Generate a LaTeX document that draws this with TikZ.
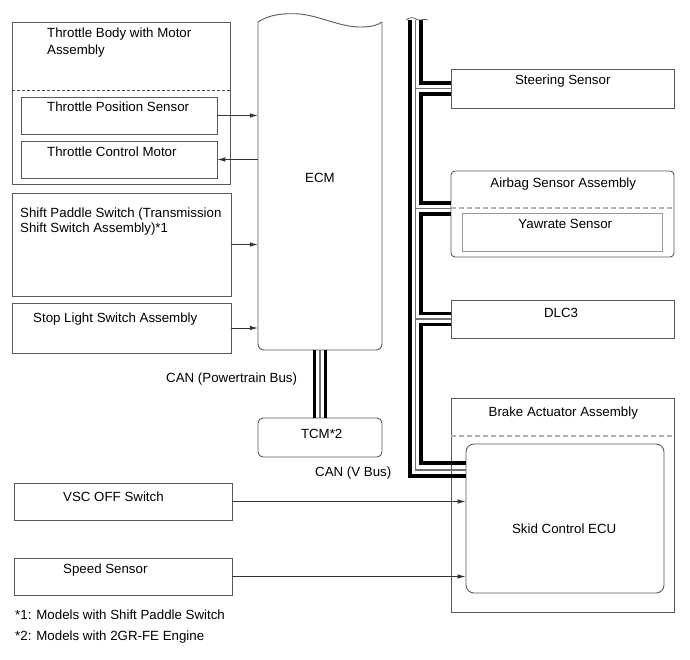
\documentclass[tikz,border=0pt]{standalone}
\usepackage{fontspec}
\setmainfont{Liberation Sans}
\usetikzlibrary{arrows.meta}
\newcommand{\fs}{\fontsize{13.3}{16}\selectfont}
\begin{document}
\begin{tikzpicture}[x=1pt,y=-1pt,
  box/.style={draw=black!65, line width=0.9pt, inner sep=0pt},
  lbl/.style={inner sep=0pt, font=\fs},
  arr/.style={draw=black!80, line width=0.8pt, -{Latex[length=8pt,width=4.5pt]}},
  busblack/.style={draw=black, line width=3.2pt, line join=miter},
  busgray/.style={draw=black!55, line width=1.4pt, line join=miter},
  dashdark/.style={draw=black!70, line width=0.7pt, dash pattern=on 3pt off 2pt},
  dashlight/.style={draw=black!30, line width=1.2pt, dash pattern=on 5pt off 3pt},
  ecmline/.style={draw=black!65, line width=0.9pt}]
\useasboundingbox (0,0) rectangle (690,659);
\fill[white] (0,0) rectangle (690,659);

% left boxes
\node[box, minimum width=218pt, minimum height=162pt] (tb) at (121,103) {};
\node[box, minimum width=196pt, minimum height=37pt] (tps) at (119,115.5) {};
\node[box, minimum width=196pt, minimum height=37pt] (tcmm) at (119,159.5) {};
\node[box, minimum width=219pt, minimum height=103pt] (shift) at (121.5,244.5) {};
\node[box, minimum width=219pt, minimum height=50pt] (stop) at (121.5,328) {};
\node[box, minimum width=218pt, minimum height=37pt] (vsc) at (123,501.5) {};
\node[box, minimum width=218pt, minimum height=37pt] (speed) at (123,576.5) {};

% ECM and TCM
\node[inner sep=0pt, minimum width=124pt, minimum height=330pt] (ecm) at (320,185) {};
\draw[ecmline, rounded corners=6pt] (382,22) -- (382,350) -- (258,350) -- (258,22);
\draw[ecmline] (258,22) .. controls (270,14) and (285,13) .. (300,14)
  .. controls (320,16) and (340,27) .. (360,27) .. controls (372,27) and (378,25) .. (382,22);
\node[box, rounded corners=5pt, minimum width=124pt, minimum height=39pt] (tcm) at (320,437.5) {};

% right boxes
\node[box, minimum width=223pt, minimum height=39pt] (steer) at (562.5,88.5) {};
\node[box, rounded corners=4pt, minimum width=223pt, minimum height=86pt] (airbag) at (562.5,214) {};
\node[draw=black!40, line width=1pt, inner sep=0pt, minimum width=200pt, minimum height=38pt] (yaw) at (562,232) {};
\node[box, minimum width=223pt, minimum height=38pt] (dlc) at (562.5,319) {};
\node[box, minimum width=223pt, minimum height=214pt] (brake) at (562.5,505) {};
\node[box, rounded corners=8pt, minimum width=198pt, minimum height=149pt] (skid) at (565,518.5) {};

% dashed separators
\draw[dashdark] (tb.west |- 0,90) -- (tb.east |- 0,90);
\draw[dashlight] (airbag.west |- 0,208) -- (airbag.east |- 0,208);
\draw[dashlight] (brake.west |- 0,436) -- (brake.east |- 0,436);

% labels
\node[lbl, anchor=base west] at (47,37.7) {Throttle Body with Motor};
\node[lbl, anchor=base west] at (47,54.2) {Assembly};
\node[lbl, anchor=base west] at (47,111.2) {Throttle Position Sensor};
\node[lbl, anchor=base west] at (47,156.2) {Throttle Control Motor};
\node[lbl, anchor=base west] at (20,217.2) {Shift Paddle Switch (Transmission};
\node[lbl, anchor=base west] at (20,232.8) {Shift Switch Assembly)*1};
\node[lbl, anchor=base west] at (33,322.2) {Stop Light Switch Assembly};
\node[lbl, anchor=base] at (320,182.7) {ECM};
\node[lbl, anchor=base] at (321.7,438.5) {TCM*2};
\node[lbl, anchor=base west] at (166,382.8) {CAN (Powertrain Bus)};
\node[lbl, anchor=base west] at (315,476.2) {CAN (V Bus)};
\node[lbl, anchor=base] at (562.8,84.5) {Steering Sensor};
\node[lbl, anchor=base] at (563.3,187.8) {Airbag Sensor Assembly};
\node[lbl, anchor=base] at (565.3,228.8) {Yawrate Sensor};
\node[lbl, anchor=base] at (561,317.8) {DLC3};
\node[lbl, anchor=base] at (563.3,416.2) {Brake Actuator Assembly};
\node[lbl, anchor=base] at (564.2,533.5) {Skid Control ECU};
\node[lbl, anchor=base west] at (63,501.8) {VSC OFF Switch};
\node[lbl, anchor=base west] at (63,573.5) {Speed Sensor};
\node[lbl, anchor=base west] at (15,619.5) {*1: Models with Shift Paddle Switch};
\node[lbl, anchor=base west] at (15,640.2) {*2: Models with 2GR-FE Engine};

% signal arrows
\draw[arr] (tps.east) -- (tps.east -| ecm.west);
\draw[arr] (tcmm.east -| ecm.west) -- (tcmm.east);
\draw[arr] (shift.east) -- (shift.east -| ecm.west);
\draw[arr] (stop.east) -- (stop.east -| ecm.west);
\draw[arr] (vsc.east) -- (vsc.east -| skid.west);
\draw[arr] (speed.east) -- (speed.east -| skid.west);

% CAN powertrain bus
\draw[busblack, line width=3pt] ([xshift=-5.5pt]ecm.south) -- ([xshift=-5.5pt]tcm.north);
\draw[busblack, line width=3pt] ([xshift=5.5pt]ecm.south) -- ([xshift=5.5pt]tcm.north);
\draw[busgray] (ecm.south) -- (tcm.north);

% CAN V bus
\coordinate (bo) at (410,20);
\coordinate (bg) at (415.5,20);
\coordinate (bi) at (421,20);
\draw[busgray] (bg) -- (415.5,470) -- (skid.west |- 0,470);
\draw[busgray] (415.5,88.5) -- (steer.west);
\draw[busgray] (415.5,208.5) -- (airbag.west |- 0,208.5);
\draw[busgray] (415.5,319) -- (dlc.west);
\draw[busblack] (bo) -- (410,476) -- (skid.west |- 0,476);
\draw[busblack] (bi) -- (421,83) -- (steer.west |- 0,83);
\draw[busblack] (steer.west |- 0,94) -- (421,94) -- (421,203) -- (airbag.west |- 0,203);
\draw[busblack] (airbag.west |- 0,214) -- (421,214) -- (421,313.5) -- (dlc.west |- 0,313.5);
\draw[busblack] (dlc.west |- 0,324.5) -- (421,324.5) -- (421,463) -- (skid.west |- 0,463);
\draw[black!70, line width=0.7pt] (406,20) .. controls (410,16.5) and (414,17.5) .. (417,19.5)
  .. controls (420,21.5) and (424,18) .. (428,20);
\end{tikzpicture}
\end{document}
